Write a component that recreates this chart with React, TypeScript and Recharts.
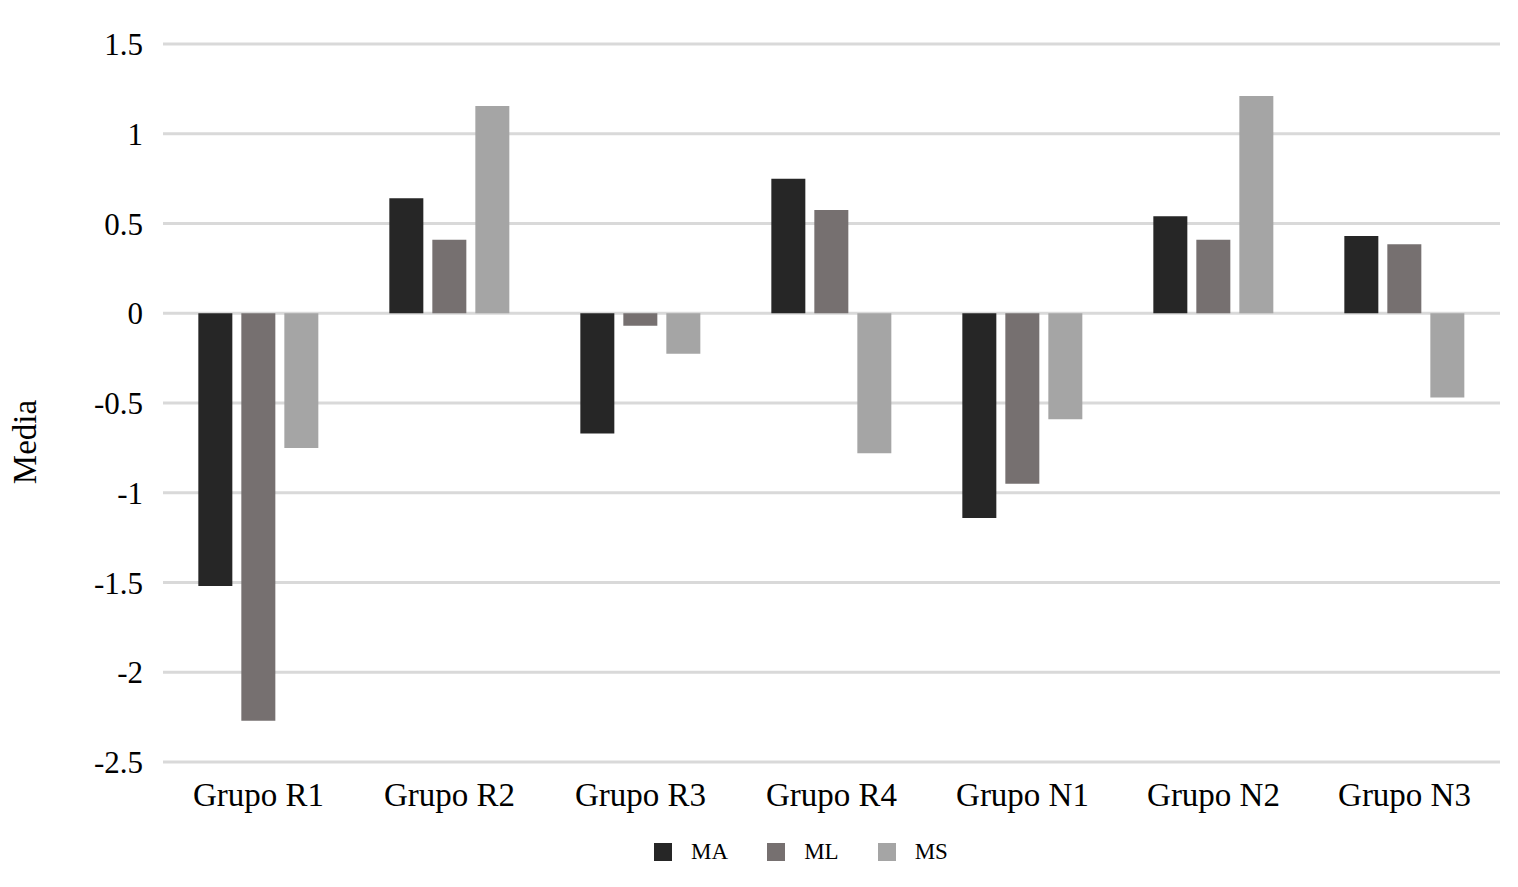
import React from "react";
import { BarChart, Bar, XAxis, YAxis, CartesianGrid, Legend } from "recharts";

const categories = ["Grupo R1", "Grupo R2", "Grupo R3", "Grupo R4", "Grupo N1", "Grupo N2", "Grupo N3"];
const maValues = [-1.52, 0.64, -0.67, 0.75, -1.14, 0.54, 0.43];
const mlValues = [-2.27, 0.41, -0.07, 0.575, -0.95, 0.41, 0.385];
const msValues = [-0.75, 1.155, -0.225, -0.78, -0.59, 1.21, -0.47];
const yTicks = [-2.5, -2, -1.5, -1, -0.5, 0, 0.5, 1, 1.5];

const data = categories.map((name, i) => ({
  name,
  MA: maValues[i],
  ML: mlValues[i],
  MS: msValues[i],
}));

const font = "'Liberation Serif', serif";

const renderLegend = (props: any) => {
  const { payload } = props;
  return (
    <div
      style={{
        height: 30,
        display: "flex",
        justifyContent: "center",
        alignItems: "center",
        fontFamily: font,
        fontSize: 23,
        color: "#000",
        paddingLeft: 94,
      }}
    >
      {payload.map((entry: any, i: number) => (
        <div key={i} style={{ display: "flex", alignItems: "center", marginRight: i < payload.length - 1 ? 39 : 0 }}>
          <div style={{ width: 18, height: 18, background: entry.color, marginRight: 19 }} />
          <span>{entry.value}</span>
        </div>
      ))}
    </div>
  );
};

const renderYLabel = () => {
  const x = 17;
  const y = 434;
  return (
    <text
      x={x}
      y={y}
      transform={`rotate(-90, ${x}, ${y})`}
      textAnchor="middle"
      dominantBaseline="central"
      style={{ fill: "#000", fontSize: 33, fontFamily: font }}
    >
      Media
    </text>
  );
};

export default function App() {
  return (
    <div style={{ width: 1502, height: 871, fontFamily: font }}>
      <BarChart
        width={1500}
        height={871}
        data={data}
        margin={{ top: 36, right: 8, bottom: 12, left: 0 }}
        barGap={9}
        barCategoryGap="18.5%"
      >
        <CartesianGrid vertical={false} stroke="#d9d9d9" strokeWidth={3} />
        <XAxis
          dataKey="name"
          axisLine={false}
          tickLine={false}
          tickSize={0}
          tickMargin={21}
          height={75}
          tick={{ fill: "#000", fontSize: 33, fontFamily: font }}
        />
        <YAxis
          domain={[-2.5, 1.5]}
          ticks={yTicks}
          interval={0}
          axisLine={false}
          tickLine={false}
          tickSize={0}
          tickMargin={20}
          width={155}
          tick={{ fill: "#000", fontSize: 31, fontFamily: font }}
          label={renderYLabel}
        />
        <Legend verticalAlign="bottom" content={renderLegend} />
        <Bar dataKey="MA" fill="#262626" isAnimationActive={false} />
        <Bar dataKey="ML" fill="#767070" isAnimationActive={false} />
        <Bar dataKey="MS" fill="#a5a5a5" isAnimationActive={false} />
      </BarChart>
    </div>
  );
}
